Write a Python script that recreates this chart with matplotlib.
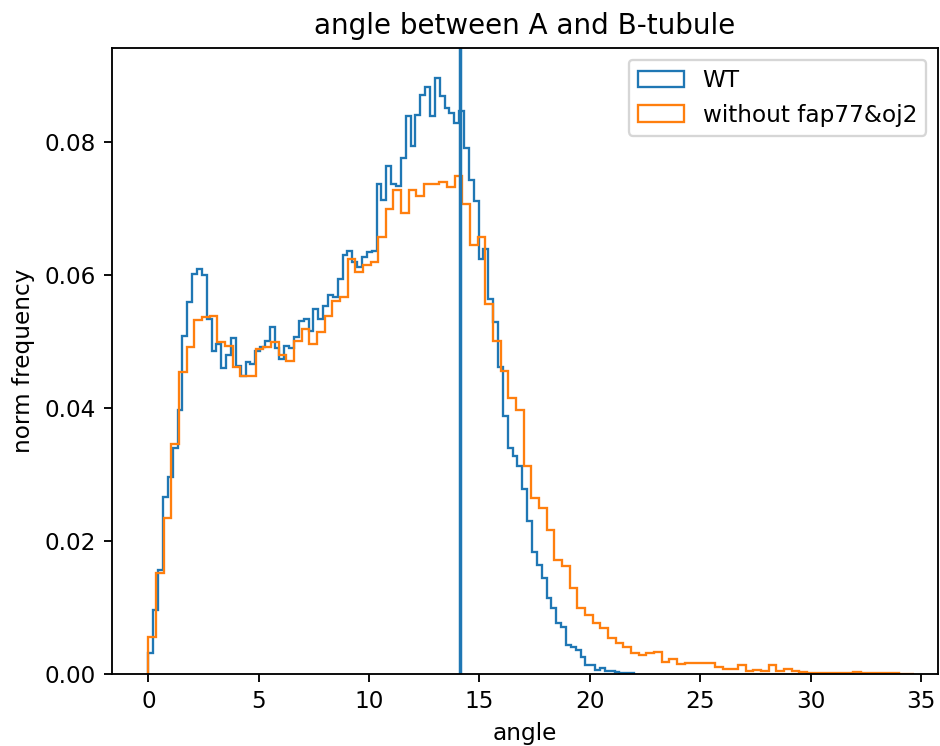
import numpy as np
import matplotlib
matplotlib.use("Agg")
import matplotlib.pyplot as plt

# ---- data (normalised histogram heights) ----
wt_bin_width = 0.22
mut_bin_width = 0.347

wt_density = [
    0.0032, 0.0097, 0.0157, 0.0266, 0.0297, 0.0340, 0.0398, 0.0509, 0.0560, 0.0602,
    0.0610, 0.0600, 0.0534, 0.0486, 0.0497, 0.0460, 0.0480, 0.0505, 0.0463, 0.0448,
    0.0470, 0.0466, 0.0486, 0.0492, 0.0501, 0.0522, 0.0490, 0.0474, 0.0494, 0.0490,
    0.0507, 0.0531, 0.0534, 0.0516, 0.0550, 0.0534, 0.0554, 0.0570, 0.0567, 0.0595,
    0.0630, 0.0637, 0.0620, 0.0613, 0.0628, 0.0635, 0.0637, 0.0738, 0.0713, 0.0764,
    0.0738, 0.0735, 0.0776, 0.0839, 0.0794, 0.0841, 0.0871, 0.0884, 0.0839, 0.0897,
    0.0870, 0.0851, 0.0844, 0.0829, 0.0847, 0.0791, 0.0743, 0.0712, 0.0625, 0.0640,
    0.0565, 0.0530, 0.0462, 0.0388, 0.0340, 0.0328, 0.0313, 0.0278, 0.0230, 0.0184,
    0.0164, 0.0145, 0.0115, 0.0099, 0.0077, 0.0071, 0.0044, 0.0041, 0.0036, 0.0026,
    0.0014, 0.0014, 0.0006, 0.0009, 0.0005, 0.0004, 0.0003, 0.0002, 0.0001, 0.0001,
]

mut_density = [
    0.0056, 0.0152, 0.0235, 0.0346, 0.0454, 0.0492, 0.0532, 0.0537, 0.0539, 0.0500,
    0.0494, 0.0462, 0.0449, 0.0449, 0.0489, 0.0492, 0.0500, 0.0480, 0.0471, 0.0501,
    0.0519, 0.0497, 0.0515, 0.0539, 0.0562, 0.0567, 0.0625, 0.0605, 0.0615, 0.0620,
    0.0658, 0.0700, 0.0728, 0.0693, 0.0728, 0.0720, 0.0738, 0.0738, 0.0741, 0.0733,
    0.0749, 0.0708, 0.0645, 0.0658, 0.0557, 0.0501, 0.0456, 0.0416, 0.0398, 0.0313,
    0.0265, 0.0250, 0.0217, 0.0172, 0.0162, 0.0130, 0.0100, 0.0089, 0.0077, 0.0069,
    0.0054, 0.0047, 0.0041, 0.0032, 0.0029, 0.0032, 0.0033, 0.0018, 0.0022, 0.0015,
    0.0017, 0.0017, 0.0016, 0.0016, 0.0011, 0.0007, 0.0007, 0.0014, 0.0004, 0.0006,
    0.0005, 0.0014, 0.0004, 0.0007, 0.0004, 0.0003, 0.0002, 0.0002, 0.0001, 0.0001,
    0.0001, 0.0002, 0.0003, 0.0002, 0.0001, 0.0001, 0.0001, 0.0001, 0.00005, 0.00005,
]

marker_angle = 14.1
series_labels = ["WT", "without fap77&oj2"]
x_ticks = [0, 5, 10, 15, 20, 25, 30, 35]
y_ticks = [0.00, 0.02, 0.04, 0.06, 0.08]

# ---- plot ----
wt_edges = np.arange(len(wt_density) + 1) * wt_bin_width
mut_edges = np.arange(len(mut_density) + 1) * mut_bin_width
wt_centers = (wt_edges[:-1] + wt_edges[1:]) / 2
mut_centers = (mut_edges[:-1] + mut_edges[1:]) / 2

fig = plt.figure(figsize=(5.64, 4.476), dpi=166.67)
ax = fig.add_axes([0.1191, 0.0965, 0.8787, 0.839])

ax.hist(wt_centers, bins=wt_edges, weights=wt_density, histtype="step",
        color="C0", label=series_labels[0])
ax.hist(mut_centers, bins=mut_edges, weights=mut_density, histtype="step",
        color="C1", label=series_labels[1])
ax.axvline(marker_angle, color="C0")

ax.set_xlim(-1.65, 35.77)
ax.set_xticks(x_ticks)
ax.set_yticks(y_ticks)
ax.set_title("angle between A and B-tubule")
ax.set_xlabel("angle")
ax.set_ylabel("norm frequency")
ax.legend(loc="upper right")

fig.savefig("out.png", dpi=fig.dpi)
